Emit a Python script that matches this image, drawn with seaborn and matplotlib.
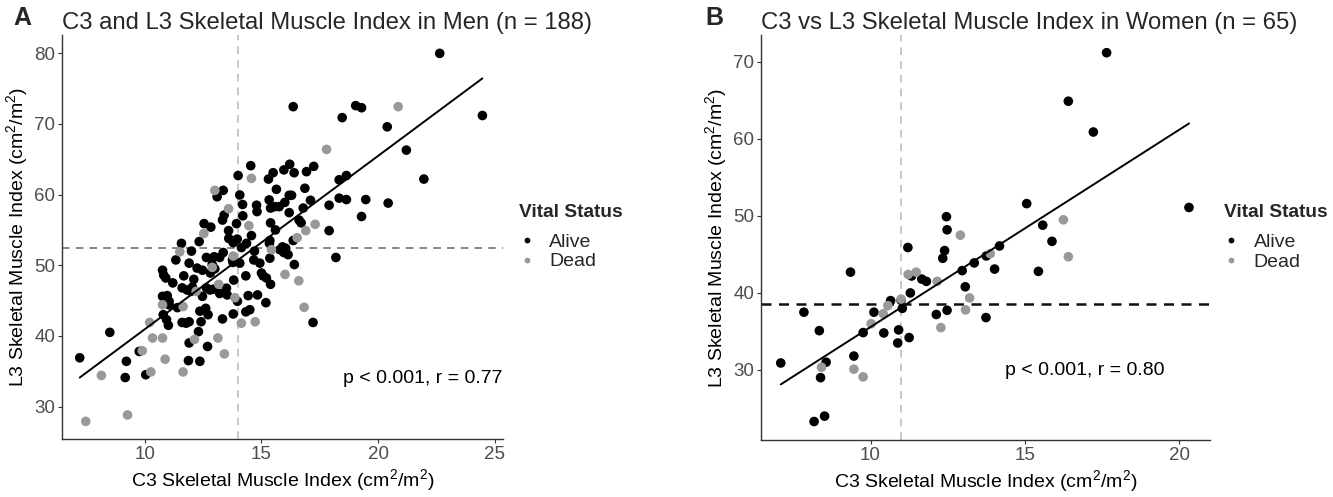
import matplotlib
matplotlib.use("Agg")
import matplotlib.pyplot as plt
import seaborn as sns
import pandas as pd

# ---------------- Panel A data (men) ----------------
men_alive_c3 = [22.64, 16.36, 19.04, 19.29, 24.47, 18.46, 20.39, 21.21, 14.54, 16.21, 17.24,
                15.5, 15.96, 16.4, 16.93, 14.0, 18.33, 18.64, 21.96, 15.3, 13.36, 13.1, 15.64,
                16.86, 14.07, 16.19, 16.29, 14.19, 14.79, 14.81, 15.33, 15.39, 15.57, 15.76, 16.0,
                16.19, 16.79, 17.1, 17.9, 18.33, 18.64, 19.47, 20.43, 19.29, 13.4, 13.33, 13.93,
                15.39, 16.61, 12.54, 12.83, 13.59, 14.57, 17.9, 12.33, 11.57, 13.79, 13.96, 14.36,
                14.14, 15.36, 15.34, 15.79, 15.9, 16.04, 15.96, 16.14, 16.36, 18.19, 11.33, 12.64,
                12.97, 13.21, 13.36, 12.89, 12.47, 12.81, 11.9, 12.24, 13.76, 13.78, 14.07, 14.67,
                14.93, 15.36, 16.41, 10.76, 10.81, 10.9, 11.67, 14.33, 15.0, 15.07, 15.21, 15.39,
                13.81, 11.6, 11.81, 11.97, 12.04, 12.64, 12.79, 12.93, 13.21, 13.5, 13.53, 10.76,
                10.96, 11.04, 11.04, 12.47, 14.43, 14.83, 15.19, 13.97, 12.36, 12.61, 12.71, 14.33,
                14.5, 10.79, 10.93, 11.01, 13.79, 13.33, 11.6, 11.77, 11.9, 12.41, 17.21, 8.5,
                12.3, 11.9, 12.69, 9.76, 7.21, 9.21, 11.87, 12.36, 9.16, 10.04,
                11.2, 12.1, 13.0, 14.7, 15.6, 16.7, 11.4, 12.0, 13.6, 14.2]
men_alive_l3 = [80.0, 72.45, 72.6, 72.3, 71.2, 70.9, 69.6, 66.3, 64.1, 64.3, 64.0,
                63.1, 63.5, 63.1, 63.25, 62.7, 62.1, 62.7, 62.2, 62.2, 60.6, 59.7, 60.75,
                60.9, 59.95, 59.9, 59.9, 58.6, 58.5, 57.6, 59.25, 58.1, 58.3, 58.3, 58.9,
                57.45, 58.1, 59.2, 58.5, 59.5, 59.3, 59.3, 58.8, 56.9, 57.1, 56.4, 55.9,
                56.0, 56.4, 55.9, 55.4, 54.9, 54.2, 54.9, 53.35, 53.1, 53.2, 53.7, 53.1,
                52.5, 53.5, 53.1, 52.2, 52.6, 52.4, 51.8, 51.5, 53.5, 51.1, 50.75, 51.1,
                51.2, 51.1, 51.8, 50.1, 49.3, 48.9, 50.3, 49.6, 50.75, 50.4, 50.3, 50.75,
                50.3, 51.0, 50.1, 49.3, 48.6, 48.2, 48.5, 48.5, 48.9, 48.5, 48.2, 47.3,
                47.9, 46.8, 46.5, 46.3, 46.9, 46.8, 46.5, 46.6, 46.0, 46.75, 45.8, 45.6,
                45.7, 44.9, 44.4, 45.6, 45.7, 45.8, 44.7, 44.9, 43.5, 43.9, 43.0, 43.4,
                43.7, 43.0, 42.3, 41.5, 43.1, 42.4, 41.9, 41.8, 42.0, 42.0, 41.9, 40.5,
                40.6, 39.0, 38.5, 37.8, 36.9, 36.4, 36.5, 36.4, 34.1, 34.5,
                47.5, 48.0, 49.5, 52.0, 55.0, 56.0, 44.0, 52.0, 53.8, 57.0]
men_dead_c3 = [20.86, 17.79, 14.57, 13.0, 13.59, 14.46, 12.53, 17.3, 16.9, 16.53, 11.5,
               15.43, 13.79, 12.89, 16.01, 16.6, 13.17, 10.76, 11.64, 13.86, 12.2, 16.83,
               14.14, 14.73, 10.21, 10.33, 10.76, 12.13, 13.13, 9.89, 10.87, 13.41, 8.14,
               10.26, 11.64, 7.47, 9.26]
men_dead_l3 = [72.45, 66.4, 62.3, 60.6, 58.0, 55.6, 54.5, 55.8, 54.9, 53.9, 51.9,
               52.2, 51.3, 49.7, 48.7, 47.8, 47.3, 44.4, 44.15, 45.4, 46.3, 44.05,
               41.8, 42.0, 41.9, 39.7, 39.7, 39.5, 39.7, 37.9, 36.7, 37.45, 34.4,
               34.9, 34.9, 27.9, 28.8]

# ---------------- Panel B data (women) ----------------
women_alive_c3 = [17.65, 16.41, 17.22, 15.06, 20.32, 12.46, 12.48, 15.58, 15.88, 11.21, 14.18,
                  12.4, 12.34, 9.35, 15.44, 13.75, 13.36, 12.97, 14.02, 11.33, 11.66, 11.81,
                  13.07, 11.29, 10.65, 10.99, 11.03, 10.11, 7.84, 12.13, 12.48, 13.74, 8.34,
                  9.76, 10.43, 10.91, 11.25, 10.88, 9.46, 7.09, 8.56, 8.38, 8.51, 8.17]
women_alive_l3 = [71.2, 64.9, 60.9, 51.6, 51.1, 49.9, 48.2, 48.8, 46.7, 45.9, 46.1,
                  45.5, 44.5, 42.7, 42.8, 44.8, 43.9, 42.9, 43.1, 42.2, 41.8, 41.5,
                  40.8, 40.0, 39.0, 39.05, 38.0, 37.5, 37.5, 37.2, 37.75, 36.8, 35.1,
                  34.85, 34.8, 35.2, 34.2, 33.5, 31.8, 30.9, 31.0, 29.0, 24.0, 23.3]
women_dead_c3 = [16.25, 16.41, 12.91, 13.88, 11.22, 11.48, 12.16, 13.21, 13.08, 10.99,
                 10.56, 10.41, 10.02, 12.28, 9.46, 9.76, 8.41]
women_dead_l3 = [49.5, 44.7, 47.5, 45.1, 42.4, 42.7, 41.5, 39.35, 37.8, 39.2,
                 38.35, 37.3, 36.0, 35.5, 30.1, 29.1, 30.35]

status_levels = ["Alive", "Dead"]
status_colors = ["#000000", "#999999"]

men_cut_c3, men_cut_l3 = 14.0, 52.5
women_cut_c3, women_cut_l3 = 11.0, 38.6

panel_titles = ["C3 and L3 Skeletal Muscle Index in Men (n = 188)",
                "C3 vs L3 Skeletal Muscle Index in Women (n = 65)"]
panel_letters = ["A", "B"]
stat_labels = ["p < 0.001, r = 0.77", "p < 0.001, r = 0.80"]
xlabel = "C3 Skeletal Muscle Index (cm$^{2}$/m$^{2}$)"
ylabel = "L3 Skeletal Muscle Index (cm$^{2}$/m$^{2}$)"


def make_df(ac3, al3, dc3, dl3):
    return pd.DataFrame({
        "c3": ac3 + dc3,
        "l3": al3 + dl3,
        "status": ["Alive"] * len(ac3) + ["Dead"] * len(dc3),
    })


df_men = make_df(men_alive_c3, men_alive_l3, men_dead_c3, men_dead_l3)
df_women = make_df(women_alive_c3, women_alive_l3, women_dead_c3, women_dead_l3)

sns.set_style("ticks")
plt.rcParams["font.family"] = ["Liberation Sans", "DejaVu Sans"]
plt.rcParams["mathtext.fontset"] = "custom"
plt.rcParams["mathtext.rm"] = "Liberation Sans"
plt.rcParams["mathtext.it"] = "Liberation Sans:italic"
plt.rcParams["mathtext.bf"] = "Liberation Sans:bold"

fig = plt.figure(figsize=(13.33, 4.97), dpi=100)
axA = fig.add_axes([0.0465, 0.1167, 0.3308, 0.8129])
axB = fig.add_axes([0.5709, 0.1147, 0.3368, 0.8149])

palette = dict(zip(status_levels, status_colors))

settings = [
    (axA, df_men, men_cut_c3, men_cut_l3, (6.45, 25.35), (25.4, 82.6), [10, 15, 20, 25],
     [30, 40, 50, 60, 70, 80], "#666666", 1.1, (5, 4), (18.5, 34.0), 1.006),
    (axB, df_women, women_cut_c3, women_cut_l3, (6.45, 21.0), (20.9, 73.5), [10, 15, 20],
     [30, 40, 50, 60, 70], "#111111", 1.8, (4, 3), (14.35, 29.95), 1.0),
]

for i, (ax, df, cx, cy, xl, yl, xt, yt, hcol, hlw, hdash, txtpos, legx) in enumerate(settings):
    ax.axvline(cx, color="#b8b8b8", ls=(0, (5, 4)), lw=1.1, zorder=1)
    ax.axhline(cy, color=hcol, ls=(0, hdash), lw=hlw, zorder=1)
    sns.scatterplot(data=df, x="c3", y="l3", hue="status", hue_order=status_levels,
                    palette=palette, s=48, edgecolor="none", linewidth=0, ax=ax, zorder=3)
    sns.regplot(data=df, x="c3", y="l3", scatter=False, ci=None, ax=ax,
                line_kws=dict(color="black", lw=1.4, zorder=4))
    ax.set_xlim(*xl)
    ax.set_ylim(*yl)
    ax.set_xticks(xt)
    ax.set_yticks(yt)
    ax.set_xlabel(xlabel, fontsize=14, color="black", labelpad=3)
    ax.set_ylabel(ylabel, fontsize=14, color="black", labelpad=3)
    ax.tick_params(axis="both", labelsize=13.5, labelcolor="#4d4d4d", color="#333333",
                   length=3, width=0.8, pad=2)
    for side in ["top", "right"]:
        ax.spines[side].set_visible(False)
    for side in ["left", "bottom"]:
        ax.spines[side].set_color("#333333")
        ax.spines[side].set_linewidth(1.0)
    ax.text(txtpos[0], txtpos[1], stat_labels[i], fontsize=14, color="black",
            ha="left", va="center")
    ax.set_title(panel_titles[i], fontsize=17.2, loc="left", x=0.0, pad=4)
    sns.move_legend(ax, loc="center left", bbox_to_anchor=(legx, 0.5), frameon=False,
                    title="Vital Status", fontsize=14, title_fontsize=13.8,
                    handlelength=0.8, handletextpad=0.75, labelspacing=0.1,
                    markerscale=0.6, borderpad=0.2)
    leg = ax.get_legend()
    leg.get_title().set_fontweight("bold")
    leg._legend_box.align = "left"
    leg._legend_box.sep = 9

fig.text(0.0098, 0.987, panel_letters[0], fontsize=18, fontweight="bold", va="top", ha="left")
fig.text(0.5290, 0.987, panel_letters[1], fontsize=18, fontweight="bold", va="top", ha="left")

fig.savefig("out.png", dpi=100)
